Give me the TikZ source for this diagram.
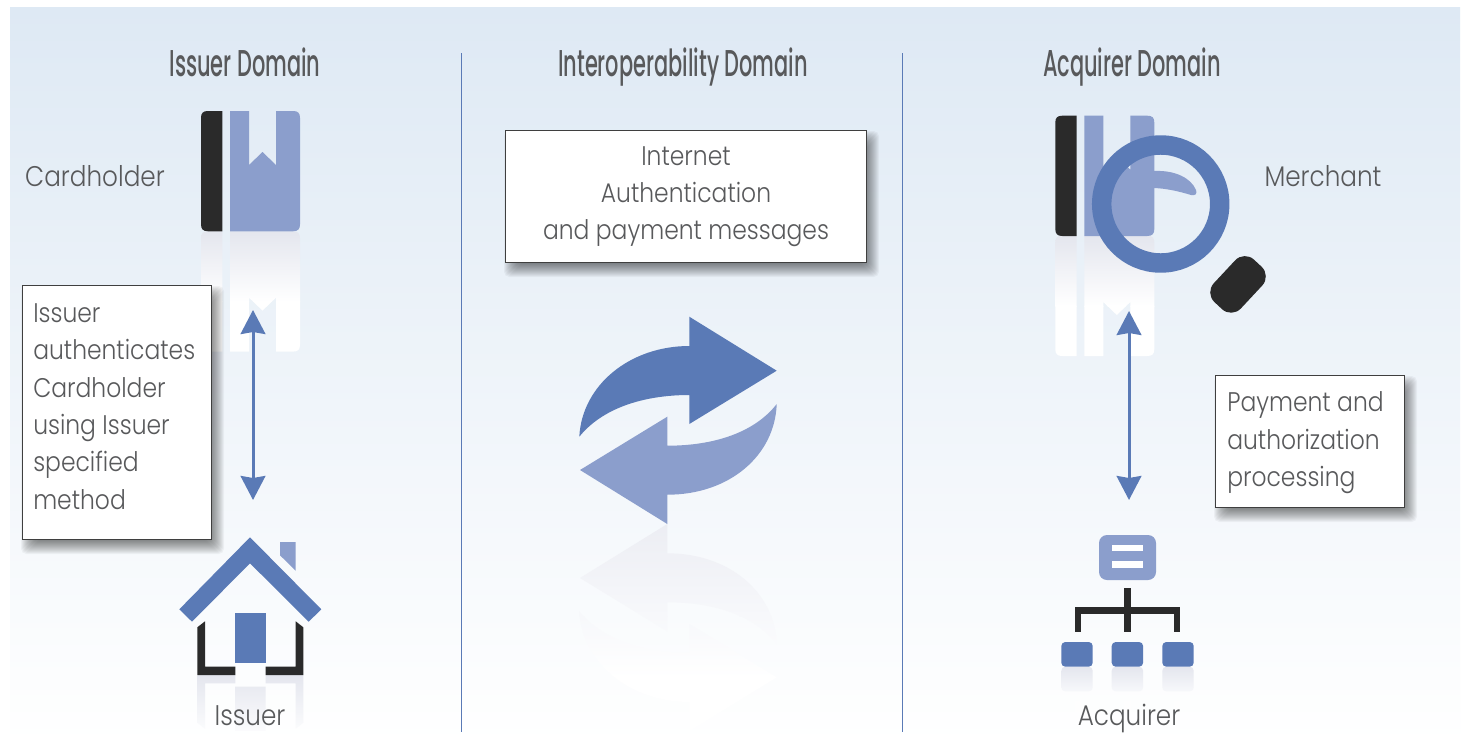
\documentclass[tikz,border=0pt]{standalone}
\usepackage{fontspec}
\usetikzlibrary{arrows.meta}
\newfontfamily\bodyf[FakeStretch=0.87]{Poppins Light}
\newfontfamily\titlef[FakeStretch=0.56]{Poppins Medium}
\definecolor{dkblue}{HTML}{5A7AB6}
\definecolor{ltblue}{HTML}{8B9ECC}
\definecolor{ink}{HTML}{2A2A2A}
\definecolor{txt}{HTML}{58595B}
\definecolor{bgtop}{HTML}{DEE9F4}
\definecolor{rtop}{HTML}{E4E6EE}
\definecolor{rmid}{HTML}{F7F8FB}
\tikzset{
  title/.style={font=\titlef\fontsize{28}{32}\selectfont, text=txt, inner sep=0pt, anchor=base},
  lab/.style={font=\bodyf\fontsize{20.2}{28}\selectfont, text=txt, inner sep=0pt},
  word/.style={lab, font=\bodyf\fontsize{21.3}{28}\selectfont, anchor=base},
  block/.style={lab, align=left, anchor=north west},
  card/.style={fill=white, draw=ink!90, line width=0.75pt, inner sep=0pt},
  dbl/.style={dkblue, line width=2.25pt, {Stealth[length=18pt,width=18.5pt,inset=1.5pt]}-{Stealth[length=18pt,width=18.5pt,inset=1.5pt]}},
  divider/.style={dkblue, line width=0.7pt}
}
\newcommand{\softshadow}[4]{%
  \foreach \i in {0,...,14}{%
    \pgfmathsetmacro{\e}{7-1*\i}%
    \fill[black, opacity=0.04, rounded corners=4pt] ({#1+6-\e},{#2+8-\e}) rectangle ({#3+6+\e},{#4+8+\e});
  }%
}
\newcommand{\blackbar}{(21.3,0) -- (7,0) .. controls (2,0) and (0,2) .. (0,7) -- (0,113.3) .. controls (0,118) and (2,120.3) .. (7,120.3) -- (21.3,120.3) -- cycle}
\newcommand{\bluepart}{(29,0) -- (48,0) -- (48,54) -- (61.5,41) -- (75,54) -- (75,0) -- (92,0) .. controls (97,0) and (99,2) .. (99,7) -- (99,113.3) .. controls (99,118) and (97,120.3) .. (92,120.3) -- (29,120.3) -- cycle}
\newcommand{\darkarrow}{(776.7,370.7) -- (689.3,316.7) -- (689.3,346) .. controls (630,346) and (582,385) .. (579.3,436.7) .. controls (605,405) and (650,395) .. (689.3,395) -- (689.3,424) -- cycle}
\newcommand{\lightarrow}{(580,470) -- (667.3,416.7) -- (667.3,445.7) .. controls (715,445.7) and (755,432) .. (776.7,404) .. controls (775,455) and (730,494.7) .. (667.3,494.7) -- (667.3,524) -- cycle}
\newcommand{\wallL}{(197.3,627.3) -- (205,621.3) -- (205,666.7) -- (235.3,666.7) -- (235.3,675) -- (197.3,675) -- cycle}
\newcommand{\wallR}{(303.3,627.3) -- (295.7,621.3) -- (295.7,666.7) -- (265.7,666.7) -- (265.7,675) -- (303.3,675) -- cycle}
\newcommand{\smallbox}[1]{(#1,642) rectangle ++(31.4,24.7)}
\begin{document}
\begin{tikzpicture}[x=0.75pt,y=-0.75pt]
\useasboundingbox (0,0) rectangle (1466,746);
\fill[white] (0,0) rectangle (1466,746);
\shade[top color=bgtop, bottom color=white] (10,7) rectangle (1460,745);

% dividers
\coordinate (d1t) at (461,53); \coordinate (d1b) at (461,732);
\coordinate (d2t) at (902,53); \coordinate (d2b) at (902,732);
\draw[divider] (d1t) -- (d1b);
\draw[divider] (d2t) -- (d2b);

% titles
\node[title] (t1) at (245,76) {Issuer Domain};
\node[title] (t2) at (683,76) {Interoperability Domain};
\node[title] (t3) at (1132,76) {Acquirer Domain};

% left card
\begin{scope}[shift={(201,351.6)},yscale=-1]
  \begin{scope}
    \clip \blackbar \bluepart;
    \shade[top color=rtop, bottom color=white] (-5,120.3) rectangle (105,50);
    \fill[white] (-5,50.5) rectangle (105,-1);
  \end{scope}
\end{scope}
\begin{scope}[shift={(201,111)}]
  \fill[ink] \blackbar;
  \fill[ltblue] \bluepart;
\end{scope}

% right card
\begin{scope}[shift={(1055.3,356)},yscale=-1]
  \begin{scope}
    \clip \blackbar \bluepart;
    \shade[top color=rtop, bottom color=white] (-5,120.3) rectangle (105,50);
    \fill[white] (-5,50.5) rectangle (105,-1);
  \end{scope}
\end{scope}
\begin{scope}[shift={(1055.3,115.7)}]
  \fill[ink] \blackbar;
  \fill[ltblue] \bluepart;
\end{scope}

% magnifier
\fill[ltblue] (1154,171) .. controls (1175,170) and (1191,178) .. (1196,190) .. controls (1197.5,194) and (1195,196) .. (1191,195) .. controls (1178,191) and (1166,188.5) .. (1154,188) -- cycle;
\draw[dkblue, line width=14.6pt] (1160.7,204) circle (59);
\begin{scope}[shift={(1238,284.4)},rotate=47]
  \fill[ink, rounded corners=10pt] (-29,-18.5) rectangle (29,18.5);
\end{scope}

% centre arrows: reflection
\begin{scope}[shift={(0,1048)},yscale=-1]
  \begin{scope}
    \clip \darkarrow \lightarrow;
    \shade[top color=rtop!70!white, bottom color=rmid] (560,524) rectangle (800,432);
    \shade[top color=rmid, bottom color=white] (560,432) rectangle (800,370);
    \fill[white] (560,370.5) rectangle (800,300);
  \end{scope}
\end{scope}
\fill[dkblue] \darkarrow;
\fill[ltblue] \lightarrow;

% house reflection
\begin{scope}[shift={(0,1350)},yscale=-1]
  \begin{scope}
    \clip \wallL \wallR (235,613) rectangle (265.7,663.3);
    \shade[top color=rtop, bottom color=rmid!50!white] (190,675) rectangle (310,620);
  \end{scope}
\end{scope}
% house
\fill[ltblue] (280,542) -- (295.7,542) -- (295.7,570.7) -- (280,555.3) -- cycle;
\fill[dkblue] (250,537.3) -- (321.3,609.3) -- (308.7,621.7) -- (250,563.3) -- (192,621.7) -- (179.3,609.3) -- cycle;
\fill[dkblue] (235,613) rectangle (265.7,663.3);
\fill[ink] \wallL;
\fill[ink] \wallR;

% acquirer tree reflection
\fill[white, opacity=.6] (1074.7,701) rectangle (1081.3,725);
\fill[white, opacity=.6] (1124.3,701) rectangle (1131,725);
\fill[white, opacity=.6] (1174,701) rectangle (1180.3,725);
\begin{scope}[shift={(0,1333.4)},yscale=-1]
  \begin{scope}
    \clip[rounded corners=3pt] \smallbox{1061.3} \smallbox{1111.7} \smallbox{1162.3};
    \shade[top color=rtop, bottom color=rmid] (1050,666.7) rectangle (1200,642);
  \end{scope}
\end{scope}
% acquirer tree
\fill[ltblue, rounded corners=6pt] (1099,535) rectangle (1156,580);
\fill[white] (1112.3,545) rectangle (1142.7,551.3);
\fill[white] (1112.3,561.3) rectangle (1142.7,567.7);
\fill[ink] (1124.3,588.3) rectangle (1131,632.3);
\fill[ink] (1074.7,607.3) rectangle (1180.3,614);
\fill[ink] (1074.7,607.3) rectangle (1081.3,632.3);
\fill[ink] (1174,607.3) rectangle (1180.3,632.3);
\fill[dkblue, rounded corners=3pt] \smallbox{1061.3};
\fill[dkblue, rounded corners=3pt] \smallbox{1111.7};
\fill[dkblue, rounded corners=3pt] \smallbox{1162.3};

% connectors
\coordinate (a1t) at (253,310); \coordinate (a1b) at (253,500);
\coordinate (a2t) at (1129,311); \coordinate (a2b) at (1129,500);
\draw[dbl] (a1t) -- (a1b);
\draw[dbl] (a2t) -- (a2b);

% boxes
\softshadow{22}{285}{211}{539}
\node[card, minimum width=141.75pt, minimum height=190.5pt, anchor=north west] (b1) at (22,285) {};
\softshadow{505}{130}{866}{262}
\node[card, minimum width=270.75pt, minimum height=99pt, anchor=north west] (b2) at (505,130) {};
\softshadow{1215}{375}{1404}{507}
\node[card, minimum width=141.75pt, minimum height=99pt, anchor=north west] (b3) at (1215,375) {};

% text
\node[word] (l1) at (95,186) {Cardholder};
\node[word] (l2) at (1323,186) {Merchant};
\node[word] (l3) at (250,725) {Issuer};
\node[word] (l4) at (1129,725) {Acquirer};
\node[block] (x1) at (33,303.5) {Issuer\\authenticates\\Cardholder\\using Issuer\\specified\\method};
\node[lab, align=center, anchor=north] (x2) at (686,146) {Internet\\Authentication\\and payment messages};
\node[block] (x3) at (1227,391.5) {Payment and\\authorization\\processing};
\end{tikzpicture}
\end{document}
